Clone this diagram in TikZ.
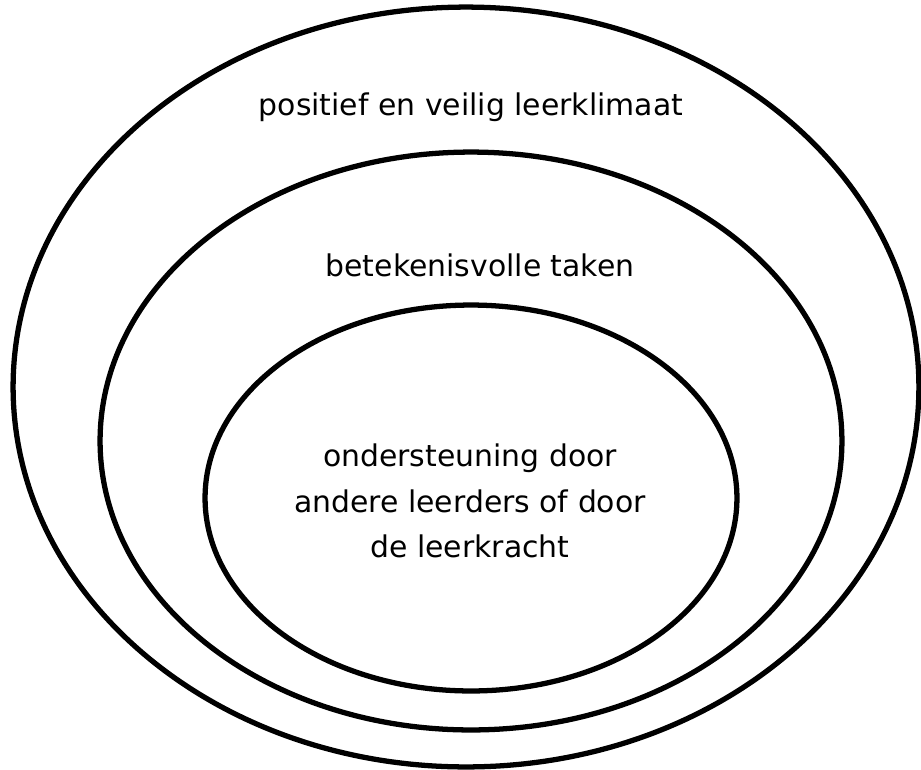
\documentclass[tikz,border=0pt]{standalone}
\usepackage{fontspec}
\setmainfont{DejaVu Sans}
\usetikzlibrary{shapes.geometric}
\tikzstyle{ring} = [draw, ellipse, line width=3pt, inner sep=0pt]
\tikzstyle{lbl} = [align=center, font=\fontsize{17}{25.8}\selectfont, inner sep=0pt]

\begin{document}
\begin{tikzpicture}[x=0.02cm, y=-0.02cm]
	
	\useasboundingbox (0,0) rectangle (921,769);
	\node [ring, minimum width=18.12cm, minimum height=15.2cm] (klimaat) at (466,387) {};
	\node [ring, minimum width=14.84cm, minimum height=11.56cm] (taken) at (471,441) {};
	\node [ring, minimum width=10.64cm, minimum height=7.72cm] (steun) at (471,498) {};
	
	\node [lbl] (klimaattxt) at (471,107) {positief en veilig leerklimaat};
	\node [lbl] (takentxt) at (480,265) {betekenisvolle taken};
	\node [lbl] (steuntxt) at (470,501) {ondersteuning door\\andere leerders of door\\de leerkracht};
\end{tikzpicture}
\end{document}
